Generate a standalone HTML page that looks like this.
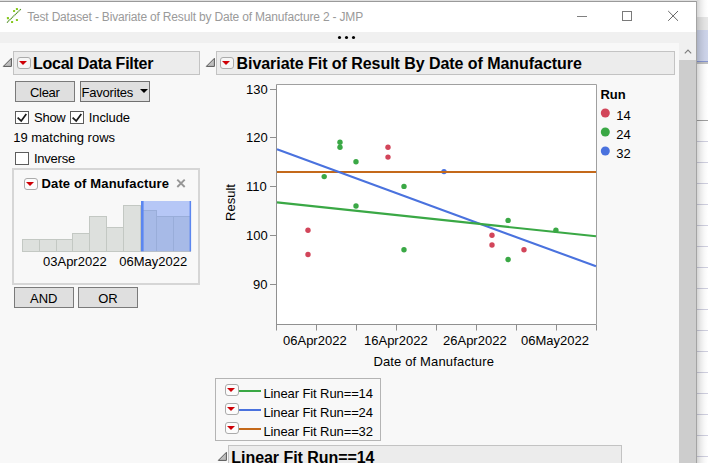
<!DOCTYPE html>
<html>
<head>
<meta charset="utf-8">
<title>JMP</title>
<style>
html,body{margin:0;padding:0;}
body{width:708px;height:463px;overflow:hidden;position:relative;background:#ffffff;font-family:"Liberation Sans",sans-serif;font-size:13px;color:#000;}
.abs{position:absolute;}
.t{position:absolute;white-space:nowrap;line-height:1;}
.b{font-weight:bold;}
.hdr{position:absolute;background:#ececec;border:1px solid #c3c3c3;box-sizing:border-box;}
.btn{position:absolute;background:#dfdfdf;border:1px solid #7a7a7a;box-sizing:border-box;}
.cb{position:absolute;width:14px;height:13px;background:#fff;border:1px solid #5c5c5c;box-sizing:border-box;}
.rb{position:absolute;width:14px;height:12px;box-sizing:border-box;border:1px solid #ababab;border-radius:3px;background:rgba(255,255,255,0.55);}
.rb:after{content:"";position:absolute;left:1.2px;top:3px;border-left:4.2px solid transparent;border-right:4.2px solid transparent;border-top:4.2px solid #cf0006;}
</style>
</head>
<body>

<!-- background app on the right -->
<div class="abs" id="bgapp" style="left:696px;top:0;width:12px;height:463px;background:#fff;">
  <div class="abs" style="left:0;top:17px;width:12px;height:13px;background:#e7e7e7;"></div>
  <div class="abs" style="left:0;top:30px;width:12px;height:31px;background:#cdd4ea;"></div>
  <div class="abs" style="left:0;top:61px;width:12px;height:1px;background:#8796d2;"></div>
  <div class="abs" style="left:0;top:62px;width:12px;height:2px;background:#c2c2c2;"></div>
  <div class="abs" style="left:0;top:120px;width:12px;height:1px;background:#a0a0a0;"></div>
  <div class="abs" style="left:0;top:141px;width:12px;height:1px;background:#d0d0e0;"></div>
  <div class="abs" style="left:0;top:162px;width:12px;height:1px;background:#d0d0e0;"></div>
  <div class="abs" style="left:0;top:183px;width:12px;height:1px;background:#d0d0e0;"></div>
  <div class="abs" style="left:0;top:204px;width:12px;height:1px;background:#d0d0e0;"></div>
  <div class="abs" style="left:0;top:225px;width:12px;height:1px;background:#d0d0e0;"></div>
  <div class="abs" style="left:0;top:246px;width:12px;height:1px;background:#d0d0e0;"></div>
  <div class="abs" style="left:0;top:267px;width:12px;height:1px;background:#d0d0e0;"></div>
  <div class="abs" style="left:0;top:288px;width:12px;height:1px;background:#d0d0e0;"></div>
  <div class="abs" style="left:0;top:309px;width:12px;height:1px;background:#d0d0e0;"></div>
  <div class="abs" style="left:0;top:330px;width:12px;height:1px;background:#d0d0e0;"></div>
  <div class="abs" style="left:0;top:351px;width:12px;height:1px;background:#d0d0e0;"></div>
  <div class="abs" style="left:0;top:372px;width:12px;height:1px;background:#d0d0e0;"></div>
  <div class="abs" style="left:0;top:393px;width:12px;height:1px;background:#d0d0e0;"></div>
  <div class="abs" style="left:0;top:414px;width:12px;height:1px;background:#d0d0e0;"></div>
  <div class="abs" style="left:0;top:435px;width:12px;height:1px;background:#d0d0e0;"></div>
  <div class="abs" style="left:0;top:456px;width:12px;height:1px;background:#d0d0e0;"></div>
  <div class="abs" style="left:1px;top:0;width:11px;height:463px;background:linear-gradient(to right,rgba(0,0,0,0.17),rgba(0,0,0,0.08) 35%,rgba(0,0,0,0.025) 70%,rgba(0,0,0,0));"></div>
</div>

<!-- window -->
<div class="abs" id="win" style="left:0;top:0;width:697px;height:463px;background:#f8f8f8;overflow:hidden;">
  <!-- title bar -->
  <div class="abs" style="left:0;top:0;width:697px;height:32px;background:#fff;"></div>
  <div class="abs" style="left:0;top:0;width:697px;height:1px;background:#e0e0e0;"></div>
  <div class="abs" style="left:0;top:1px;width:697px;height:1px;background:#9a9a9a;"></div>
  <div class="abs" style="left:696px;top:1px;width:1px;height:462px;background:#a4a4a4;"></div>
  <!-- toolbar strip -->
  <div class="abs" style="left:0;top:32px;width:696px;height:11px;background:#f0f0f0;"></div>
  <svg class="abs" style="left:335px;top:33px;" width="24" height="9" viewBox="335 33 24 9"><circle cx="339.5" cy="37.5" r="1.55" fill="#000"/><circle cx="346.5" cy="37.5" r="1.55" fill="#000"/><circle cx="353.5" cy="37.5" r="1.55" fill="#000"/></svg>

  <!-- app icon -->
  <svg class="abs" style="left:0px;top:0px;" width="28" height="30" viewBox="0 0 28 30">
    <line x1="7" y1="22.6" x2="20.9" y2="9" stroke="#4c8c1e" stroke-width="1.1" stroke-dasharray="1.3 0.5"/>
    <g fill="#86c81e">
      <rect x="15.9" y="8" width="2.1" height="2.1" rx="0.5"/>
      <rect x="13" y="9.9" width="2.1" height="2.1" rx="0.5"/>
      <rect x="6.9" y="17.1" width="2.1" height="2.1" rx="0.5"/>
      <rect x="15.9" y="19" width="2.1" height="2.1" rx="0.5"/>
      <rect x="11" y="21" width="2.1" height="2.1" rx="0.5"/>
    </g>
  </svg>
  <div class="t" id="title" style="left:27.2px;top:10.5px;font-size:12px;color:#9a9a9a;letter-spacing:-0.18px;">Test Dataset - Bivariate of Result by Date of Manufacture 2 - JMP</div>

  <!-- window controls -->
  <svg class="abs" style="left:570px;top:4px;" width="120" height="24" viewBox="0 0 120 24">
    <line x1="7" y1="12.5" x2="17" y2="12.5" stroke="#808080" stroke-width="1"/>
    <rect x="52.5" y="7.5" width="9" height="9" fill="none" stroke="#7a7a7a" stroke-width="1"/>
    <path d="M98.2 7 L108 16.8 M108 7 L98.2 16.8" stroke="#666" stroke-width="1" fill="none"/>
  </svg>

  <!-- scrollbar -->
  <div class="abs" style="left:679px;top:43px;width:17px;height:420px;background:#f0f0f0;"></div>
  <svg class="abs" style="left:683px;top:47px;" width="10" height="8" viewBox="0 0 10 8"><path d="M1.8 6.3 L5 3.1 L8.2 6.3" fill="none" stroke="#7c7c7c" stroke-width="1.1"/></svg>
  <div class="abs" style="left:679px;top:60px;width:17px;height:403px;background:#cdcdcd;"></div>

  <!-- LEFT PANEL -->
  <svg class="abs" style="left:1px;top:56px;" width="14" height="14" viewBox="-2 -2 14 14"><path d="M0.3 8.4 L8.4 8.4 L8.4 0.3 Z" fill="#bdbdbd" stroke="#585858" stroke-width="1" stroke-linejoin="miter"/></svg>
  <div class="hdr" style="left:13px;top:51px;width:187px;height:24px;"></div>
  <div class="rb" style="left:17px;top:57px;"></div>
  <div class="t b" id="ldf" style="left:33px;top:56px;font-size:16px;letter-spacing:-0.25px;">Local Data Filter</div>

  <div class="btn" style="left:15px;top:81px;width:60px;height:21px;"></div>
  <div class="t" id="clear" style="left:30px;top:86px;letter-spacing:-0.3px;">Clear</div>
  <div class="btn" style="left:80px;top:81px;width:70px;height:21px;border-color:#707070;"></div>
  <div class="t" id="fav" style="left:81.5px;top:86px;letter-spacing:-0.2px;">Favorites</div>
  <div class="abs" style="left:140px;top:89px;border-left:4px solid transparent;border-right:4px solid transparent;border-top:4px solid #000;"></div>

  <div class="cb" style="left:15px;top:111px;"></div>
  <svg class="abs" style="left:15px;top:111px;" width="14" height="13" viewBox="0 0 14 13"><path d="M2.6 6.7 L6.2 10 L11.3 2.9" fill="none" stroke="#1a1a1a" stroke-width="1.7"/></svg>
  <div class="t" id="show" style="letter-spacing:-0.3px;left:34.1px;top:111px;">Show</div>
  <div class="cb" style="left:70px;top:111px;"></div>
  <svg class="abs" style="left:70px;top:111px;" width="14" height="13" viewBox="0 0 14 13"><path d="M2.6 6.7 L6.2 10 L11.3 2.9" fill="none" stroke="#1a1a1a" stroke-width="1.7"/></svg>
  <div class="t" id="incl" style="letter-spacing:-0.12px;left:88.8px;top:111px;">Include</div>

  <div class="t" id="match" style="left:13.2px;top:131px;">19 matching rows</div>

  <div class="cb" style="left:15px;top:152px;"></div>
  <div class="t" id="inv" style="letter-spacing:-0.25px;left:34px;top:152px;">Inverse</div>

  <!-- filter box -->
  <div class="abs" style="left:12px;top:168px;width:188px;height:117px;box-sizing:border-box;border:2px solid #d6d6d6;background:#f8f8f8;"></div>
  <div class="rb" style="left:24px;top:178px;"></div>
  <div class="t b" id="dom" style="left:41.5px;top:177px;letter-spacing:0.14px;">Date of Manufacture</div>
  <svg class="abs" style="left:176px;top:178px;" width="10" height="10" viewBox="0 0 10 10"><path d="M1.3 1.6 L8.7 9 M8.7 1.6 L1.3 9" stroke="#969696" stroke-width="1.9" fill="none"/></svg>

  <svg class="abs" style="left:12px;top:195px;" width="188" height="62" viewBox="12 195 188 62">
    <g fill="#dde0dd" stroke="#c3c8c3" stroke-width="1">
      <rect x="22.5" y="239.5" width="17" height="12"/>
      <rect x="39.5" y="239.5" width="17" height="12"/>
      <rect x="56.5" y="239.5" width="16" height="12"/>
      <rect x="72.5" y="233.5" width="17" height="18"/>
      <rect x="89.5" y="216.5" width="17" height="35"/>
      <rect x="106.5" y="227.5" width="17" height="24"/>
      <rect x="123.5" y="205.5" width="17" height="46"/>
      <rect x="140.5" y="210.5" width="16" height="41"/>
      <rect x="156.5" y="216.5" width="17" height="35"/>
      <rect x="173.5" y="216.5" width="17" height="35"/>
    </g>
    <rect x="141" y="201" width="50" height="50.3" fill="#688df4" fill-opacity="0.46"/>
    <rect x="141" y="201" width="2.6" height="50.3" fill="#5b86f0"/>
    <rect x="189.6" y="201" width="1.5" height="50.3" fill="#5b86f0"/>
  </svg>
  <div class="t" id="d1" style="left:43px;top:255.3px;">03Apr2022</div>
  <div class="t" id="d2" style="left:119.3px;top:255.3px;">06May2022</div>

  <div class="btn" style="left:14px;top:287px;width:60px;height:21px;"></div>
  <div class="t" id="and" style="left:30px;top:292px;">AND</div>
  <div class="btn" style="left:78px;top:287px;width:60px;height:21px;"></div>
  <div class="t" id="or" style="left:98.2px;top:292px;">OR</div>

  <!-- RIGHT PANEL -->
  <svg class="abs" style="left:204px;top:56px;" width="14" height="14" viewBox="-2 -2 14 14"><path d="M0.3 8.4 L8.4 8.4 L8.4 0.3 Z" fill="#bdbdbd" stroke="#585858" stroke-width="1" stroke-linejoin="miter"/></svg>
  <div class="hdr" style="left:216px;top:51px;width:459px;height:24px;"></div>
  <div class="rb" style="left:220px;top:57px;"></div>
  <div class="t b" id="biv" style="left:236.5px;top:56px;font-size:16px;letter-spacing:-0.05px;">Bivariate Fit of Result By Date of Manufacture</div>

  <!-- chart -->
  <svg class="abs" style="left:200px;top:76px;" width="479" height="300" viewBox="200 76 479 300">
    <rect x="277" y="84.5" width="319.5" height="240" fill="#fff"/>
    <!-- frame -->
    <path d="M276.5 84.5 L596.5 84.5 L596.5 324.5" fill="none" stroke="#a0a0a0" stroke-width="1"/>
    <path d="M276.5 84.5 L276.5 330.5 M276.5 324.5 L596.5 324.5" fill="none" stroke="#909090" stroke-width="1"/>
    <!-- y ticks -->
    <g stroke="#8e8e8e" stroke-width="1">
      <line x1="270" y1="89.5" x2="276" y2="89.5"/>
      <line x1="270" y1="137.5" x2="276" y2="137.5"/>
      <line x1="270" y1="186.5" x2="276" y2="186.5"/>
      <line x1="270" y1="235.5" x2="276" y2="235.5"/>
      <line x1="270" y1="284.5" x2="276" y2="284.5"/>
      <line x1="316.5" y1="325" x2="316.5" y2="330.5"/>
      <line x1="356.5" y1="325" x2="356.5" y2="330.5"/>
      <line x1="396.5" y1="325" x2="396.5" y2="330.5"/>
      <line x1="436.5" y1="325" x2="436.5" y2="330.5"/>
      <line x1="476.5" y1="325" x2="476.5" y2="330.5"/>
      <line x1="516.5" y1="325" x2="516.5" y2="330.5"/>
      <line x1="556.5" y1="325" x2="556.5" y2="330.5"/>
      <line x1="596.5" y1="325" x2="596.5" y2="330.5"/>
    </g>
    <!-- points -->
    <g fill="#d2455a">
      <circle cx="308" cy="230.3" r="2.7"/><circle cx="308" cy="254.5" r="2.7"/>
      <circle cx="388" cy="147.3" r="2.7"/><circle cx="388" cy="157.1" r="2.7"/>
      <circle cx="492" cy="235.2" r="2.7"/><circle cx="492" cy="245" r="2.7"/>
      <circle cx="524" cy="249.8" r="2.7"/>
    </g>
    <g fill="#3aa845">
      <circle cx="324.2" cy="176.6" r="2.7"/>
      <circle cx="340" cy="142.3" r="2.7"/><circle cx="340" cy="147.2" r="2.7"/>
      <circle cx="356" cy="161.8" r="2.7"/><circle cx="356" cy="206" r="2.7"/>
      <circle cx="404" cy="186.4" r="2.7"/><circle cx="404" cy="249.8" r="2.7"/>
      <circle cx="508.1" cy="220.4" r="2.7"/><circle cx="508.1" cy="259.5" r="2.7"/>
      <circle cx="555.9" cy="230.3" r="2.7"/>
    </g>
    <circle cx="444" cy="171.6" r="2.7" fill="#4a72de"/>
    <!-- lines -->
    <line x1="277" y1="172" x2="596" y2="172" stroke="#c4691a" stroke-width="2"/>
    <line x1="277" y1="149.3" x2="596" y2="266.3" stroke="#4a72de" stroke-width="2.1"/>
    <line x1="277" y1="202.4" x2="596" y2="236.3" stroke="#3aa845" stroke-width="2.1"/>
    <!-- legend -->
    <circle cx="605.3" cy="113" r="4.5" fill="#d2455a"/>
    <circle cx="605.3" cy="132" r="4.5" fill="#3aa845"/>
    <circle cx="605.3" cy="151" r="4.5" fill="#4a72de"/>
  </svg>
  <div class="t" id="y130" style="left:246px;top:83px;">130</div>
  <div class="t" id="y120" style="left:246px;top:131px;">120</div>
  <div class="t" id="y110" style="left:246px;top:180px;">110</div>
  <div class="t" id="y100" style="left:246px;top:229px;">100</div>
  <div class="t" id="y90" style="left:253px;top:278px;">90</div>
  <div class="t" id="res" style="left:211.5px;top:196px;transform:rotate(-90deg);transform-origin:center;">Result</div>
  <div class="t" id="x1" style="left:283px;top:333.6px;">06Apr2022</div>
  <div class="t" id="x2" style="left:364px;top:333.6px;">16Apr2022</div>
  <div class="t" id="x3" style="left:443px;top:333.6px;">26Apr2022</div>
  <div class="t" id="x4" style="left:521px;top:333.6px;">06May2022</div>
  <div class="t" id="xl" style="left:373.4px;top:355px;letter-spacing:0.15px;">Date of Manufacture</div>
  <div class="t b" id="run" style="left:600.4px;top:87.7px;">Run</div>
  <div class="t" id="l14" style="left:616.3px;top:109px;">14</div>
  <div class="t" id="l24" style="left:616.3px;top:128px;">24</div>
  <div class="t" id="l32" style="left:616.3px;top:146.8px;">32</div>

  <!-- fit legend box -->
  <div class="abs" style="left:215px;top:378px;width:166px;height:63px;box-sizing:border-box;border:1px solid #b4b4b4;background:#f8f8f8;"></div>
  <div class="rb" style="left:225px;top:384px;"></div>
  <div class="rb" style="left:225px;top:403px;"></div>
  <div class="rb" style="left:225px;top:422px;"></div>
  <div class="abs" style="left:239px;top:390px;width:22px;height:2px;background:#3aa845;"></div>
  <div class="abs" style="left:239px;top:409px;width:22px;height:2px;background:#4a72de;"></div>
  <div class="abs" style="left:239px;top:428px;width:22px;height:2px;background:#c4691a;"></div>
  <div class="t" id="f1" style="letter-spacing:-0.1px;left:263.4px;top:386.5px;">Linear Fit Run==14</div>
  <div class="t" id="f2" style="letter-spacing:-0.1px;left:263.4px;top:405.6px;">Linear Fit Run==24</div>
  <div class="t" id="f3" style="letter-spacing:-0.1px;left:263.4px;top:424.7px;">Linear Fit Run==32</div>

  <svg class="abs" style="left:216px;top:450px;" width="14" height="14" viewBox="-2 -2 14 14"><path d="M0.3 8.4 L8.4 8.4 L8.4 0.3 Z" fill="#bdbdbd" stroke="#585858" stroke-width="1" stroke-linejoin="miter"/></svg>
  <div class="hdr" style="left:228px;top:445px;width:394px;height:24px;"></div>
  <div class="t b" id="lf" style="left:231.3px;top:450px;font-size:16px;letter-spacing:-0.05px;">Linear Fit Run==14</div>
</div>
</body>
</html>
